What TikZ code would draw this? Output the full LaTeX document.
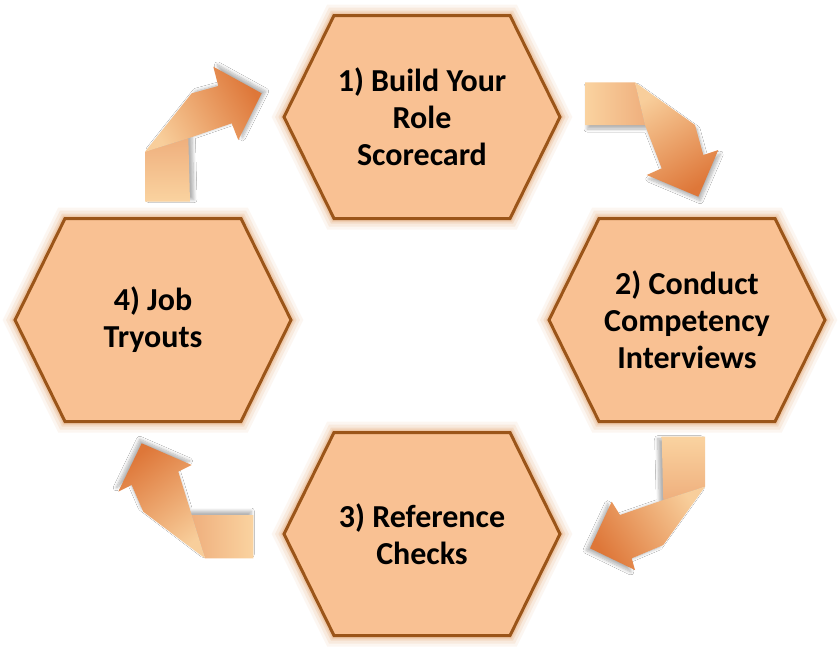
\documentclass[tikz,border=0pt]{standalone}
\usepackage{fontspec}
\setmainfont{Carlito}
\usetikzlibrary{shadows.blur}
\definecolor{hexfill}{HTML}{F9C193}
\definecolor{hexborder}{HTML}{9B5519}
\definecolor{glowc}{HTML}{E09656}
\definecolor{tailfree}{HTML}{FAD3A0}
\definecolor{tailfold}{HTML}{EFAF7D}
\definecolor{shaftlight}{HTML}{F8CE9B}
\definecolor{shaftdark}{HTML}{DE7739}
\tikzset{
  hexbody/.style={fill=hexfill, draw=hexborder, line width=3pt, line join=miter},
  hextext/.style={font=\fontsize{32}{37}\selectfont\bfseries, align=center, text=black, inner sep=0pt},
  arrshadow/.style 2 args={blur shadow={shadow xshift=#1, shadow yshift=#2, shadow blur radius=3pt, shadow blur steps=8, shadow opacity=30}},
  grad/.style n args={3}{top color=#1, bottom color=#2, shading angle=#3},
  hexa/.pic={
    \foreach \w/\o in {22/0.08, 16/0.12, 10/0.18, 6/0.25}
      \draw[glowc, line width=\w pt, opacity=\o, line join=miter]
        (-138,0) -- (-88,-101.5) -- (88,-101.5) -- (138,0) -- (88,101.5) -- (-88,101.5) -- cycle;
    \draw[hexbody] (-138,0) -- (-88,-101.5) -- (88,-101.5) -- (138,0) -- (88,101.5) -- (-88,101.5) -- cycle;
  }
}
\begin{document}
\begin{tikzpicture}[x=1pt, y=-1pt]
\useasboundingbox[fill=white] (0,0) rectangle (840,651);

% hexagons
\pic at (422,117) {hexa};
\pic at (687,320) {hexa};
\pic at (422,534) {hexa};
\pic at (153,320) {hexa};

\node[hextext] (s1) at (422,117) {1) Build Your\\Role\\Scorecard};
\node[hextext] (s2) at (687,320) {2) Conduct\\Competency\\Interviews};
\node[hextext] (s3) at (422,534) {3) Reference\\Checks};
\node[hextext] (s4) at (153,320) {4) Job\\Tryouts};

% arrow 1 (top right)
\path[arrshadow={2pt}{-4pt}] (585,82.3) -- (635,82.3) -- (695,125) -- (703.3,155) -- (718.3,150) -- (698.3,196.7) -- (646.7,175) -- (661.7,168.3) -- (645,125) -- (585,125) -- cycle;
\shade[grad={tailfree}{tailfold}{90}] (585,82.3) -- (635,82.3) -- (645,125) -- (585,125) -- cycle;
\shade[grad={shaftlight}{shaftdark}{32}] (635,82.3) -- (695,125) -- (703.3,155) -- (718.3,150) -- (698.3,196.7) -- (646.7,175) -- (661.7,168.3) -- (645,125) -- cycle;

% arrow 2 (bottom right)
\path[arrshadow={-4pt}{-2pt}] (661.7,436.7) -- (705,436.7) -- (705,486.7) -- (663.3,545) -- (631.7,558.3) -- (635,570) -- (590,548.3) -- (611.7,501.7) -- (620,515) -- (663.3,500) -- cycle;
\shade[grad={tailfree}{tailfold}{0}] (661.7,436.7) -- (705,436.7) -- (705,486.7) -- (663.3,500) -- cycle;
\shade[grad={shaftlight}{shaftdark}{-56}] (705,486.7) -- (663.3,545) -- (631.7,558.3) -- (635,570) -- (590,548.3) -- (611.7,501.7) -- (620,515) -- (663.3,500) -- cycle;

% arrow 3 (bottom left)
\path[arrshadow={-2pt}{4pt}] (253.3,515) -- (253.3,558.3) -- (205,558.3) -- (143.3,511.7) -- (131.7,485) -- (118.3,491.7) -- (141.7,443.3) -- (191.7,465) -- (178.3,471.7) -- (191.7,515) -- cycle;
\shade[grad={tailfree}{tailfold}{-90}] (253.3,515) -- (253.3,558.3) -- (205,558.3) -- (191.7,515) -- cycle;
\shade[grad={shaftlight}{shaftdark}{-143}] (205,558.3) -- (143.3,511.7) -- (131.7,485) -- (118.3,491.7) -- (141.7,443.3) -- (191.7,465) -- (178.3,471.7) -- (191.7,515) -- cycle;

% arrow 4 (top left)
\path[arrshadow={4pt}{2pt}] (145,201.7) -- (190,201.7) -- (188.3,138.3) -- (231.7,123.3) -- (238.3,140) -- (261.7,93.3) -- (213.3,66.7) -- (218.3,86) -- (191.7,93.3) -- (145,151.7) -- cycle;
\shade[grad={tailfree}{tailfold}{180}] (145,201.7) -- (190,201.7) -- (188.3,138.3) -- (145,151.7) -- cycle;
\shade[grad={shaftlight}{shaftdark}{120}] (188.3,138.3) -- (231.7,123.3) -- (238.3,140) -- (261.7,93.3) -- (213.3,66.7) -- (218.3,86) -- (191.7,93.3) -- (145,151.7) -- cycle;
\end{tikzpicture}
\end{document}
